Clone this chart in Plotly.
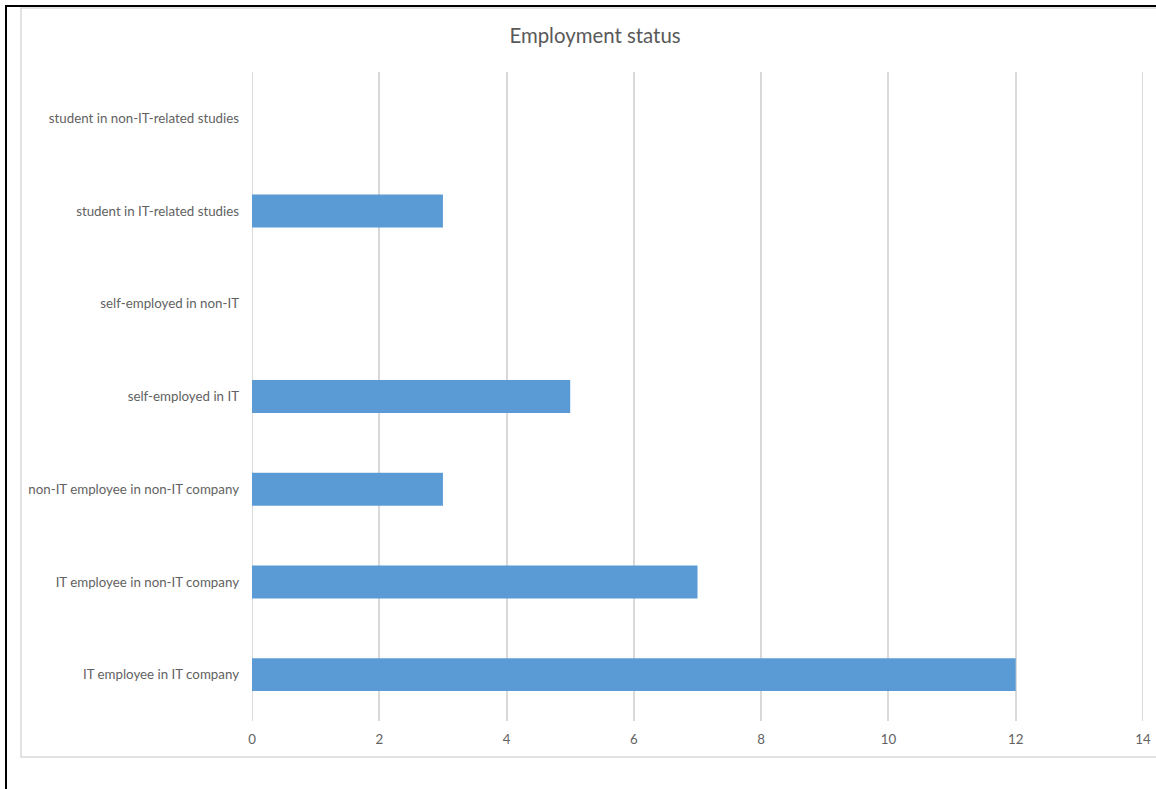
import plotly.graph_objects as go

# Employment status counts (bottom-to-top order as shown on the axis)
categories = [
    "IT employee in IT company",
    "IT employee in non-IT company",
    "non-IT employee in non-IT company",
    "self-employed in IT",
    "self-employed in non-IT",
    "student in IT-related studies",
    "student in non-IT-related studies",
]
counts = [12, 7, 3, 5, 0, 3, 0]
x_ticks = [0, 2, 4, 6, 8, 10, 12, 14]

W, H = 1156, 789
L, R, T, B = 252, 13, 72, 68
pw, ph = W - L - R, H - T - B


def px_x(p):
    return (p - L) / pw


def px_y(p):
    return (H - B - p) / ph


fig = go.Figure(
    go.Bar(
        x=counts,
        y=categories,
        orientation="h",
        marker=dict(color="#5B9BD5", line=dict(width=0)),
        width=0.355,
    )
)

text_font = dict(family="Lato, Calibri, sans-serif", size=13.3, color="#626262")

# gridlines at the range edges, which plotly omits on its own
edge_lines = [
    dict(type="line", xref="x", yref="paper", x0=v, x1=v, y0=0, y1=1,
         line=dict(color="#D9D9D9", width=2), layer="below")
    for v in (x_ticks[0], x_ticks[-1])
]

fig.update_layout(
    width=W,
    height=H,
    margin=dict(l=L, r=R, t=T, b=B, autoexpand=False),
    paper_bgcolor="white",
    plot_bgcolor="white",
    showlegend=False,
    font=text_font,
    title=dict(
        text="Employment status",
        xref="container",
        x=595 / W,
        xanchor="center",
        y=1 - 36 / H,
        yanchor="middle",
        font=dict(family="Lato, Calibri, sans-serif", size=20.4, color="#595959"),
    ),
    xaxis=dict(
        range=[x_ticks[0], x_ticks[-1]],
        tickvals=x_ticks,
        showgrid=True,
        gridcolor="#D9D9D9",
        gridwidth=2,
        zeroline=False,
        showline=False,
        ticks="",
        ticklabelstandoff=9,
        tickfont=text_font,
        automargin=False,
    ),
    yaxis=dict(
        categoryorder="array",
        categoryarray=categories,
        range=[-0.5, len(categories) - 0.5],
        showgrid=False,
        zeroline=False,
        showline=False,
        ticks="",
        ticklabelstandoff=12,
        tickfont=text_font,
        automargin=False,
    ),
    shapes=edge_lines + [
        # chart area border
        dict(type="rect", xref="paper", yref="paper",
             x0=px_x(21), x1=px_x(1170), y0=px_y(757), y1=px_y(8),
             line=dict(color="#D9D9D9", width=1.5), fillcolor="rgba(0,0,0,0)",
             layer="below"),
        # outer frame lines
        dict(type="line", xref="paper", yref="paper",
             x0=px_x(6), x1=px_x(6), y0=px_y(800), y1=px_y(6),
             line=dict(color="black", width=2)),
        dict(type="line", xref="paper", yref="paper",
             x0=px_x(5), x1=px_x(1170), y0=px_y(6), y1=px_y(6),
             line=dict(color="black", width=2)),
    ],
)

fig.write_html("out.html")
